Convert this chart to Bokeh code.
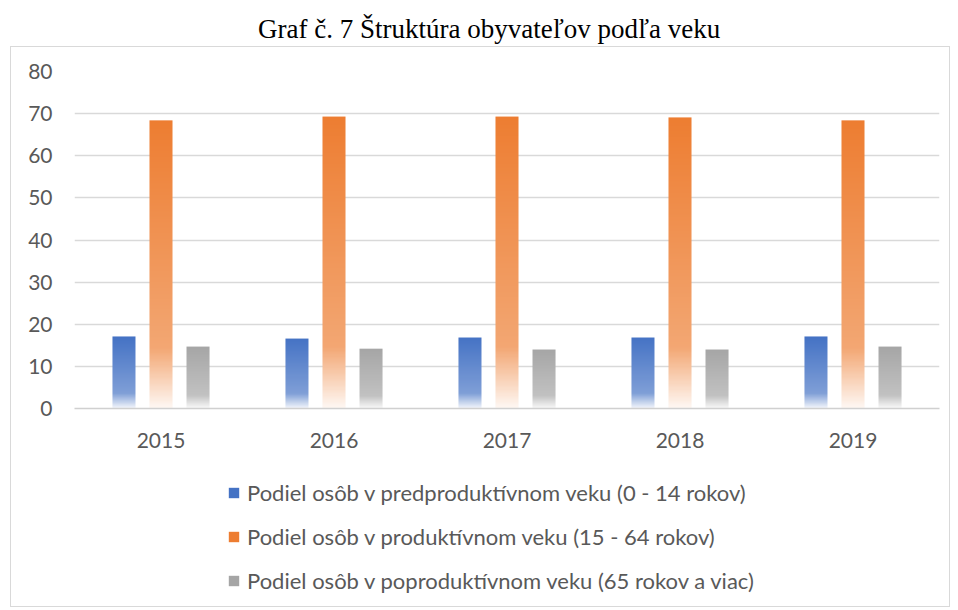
import numpy as np
from bokeh.plotting import figure
from bokeh.layouts import column
from bokeh.models import (ColumnDataSource, FactorRange, Range1d, FixedTicker,
                          Legend, LegendItem)
from bokeh.transform import dodge
from bokeh.embed import file_html
from bokeh.resources import INLINE

# ---- data ----
years = ["2015", "2016", "2017", "2018", "2019"]
pre_productive = [17.1, 16.6, 16.85, 16.85, 17.1]
productive = [68.4, 69.3, 69.3, 69.1, 68.4]
post_productive = [14.7, 14.2, 14.0, 14.0, 14.7]
series_labels = [
    "Podiel osôb v predproduktívnom veku (0 - 14 rokov)",
    "Podiel osôb v produktívnom veku (15 - 64 rokov)",
    "Podiel osôb v poproduktívnom veku (65 rokov a viac)",
]
y_ticks = [0, 10, 20, 30, 40, 50, 60, 70, 80]
title_text = "Graf č. 7  Štruktúra obyvateľov podľa veku"

base_colors = [(68, 114, 196), (237, 125, 49), (165, 165, 165)]
offsets = [-0.214, 0.0, 0.214]
bar_width = 0.133
M = 240
LABEL_FONT = "Lato"
TICK_SIZE = "21px"
LEGEND_SIZE = "22px"
TEXT_COLOR = "#595959"


def hexc(c):
    return "#%02x%02x%02x" % c


def grad_rgb(base, t):
    # t: 0 at top of bar, 1 at bottom
    if t <= 0.79:
        f = 0.32 * t / 0.79
    else:
        f = 0.32 + (0.95 - 0.32) * (t - 0.79) / 0.21
    return tuple(int(round(base[i] + (255 - base[i]) * f)) for i in range(3))


def grad_img(base):
    img = np.empty((M, 1), dtype=np.uint32)
    view = img.view(dtype=np.uint8).reshape((M, 1, 4))
    for r in range(M):  # row 0 = bottom
        t = 1 - (r + 0.5) / M
        c = grad_rgb(base, t)
        view[r, 0, 0] = c[0]
        view[r, 0, 1] = c[1]
        view[r, 0, 2] = c[2]
        view[r, 0, 3] = 255
    return img


def blank(fig):
    fig.outline_line_color = None
    fig.grid.visible = False
    fig.background_fill_color = "white"
    fig.border_fill_color = "white"


# ---- title strip (outside the chart border) ----
pt = figure(width=950, height=46, output_backend="svg", toolbar_location=None,
            x_axis_location=None, y_axis_location=None,
            min_border_left=34, min_border_right=0, min_border_top=43, min_border_bottom=0,
            x_range=Range1d(0, 1), y_range=Range1d(0, 1))
blank(pt)
pt.title.text = title_text
pt.title.text_font = "Liberation Serif"
pt.title.text_font_size = "27px"
pt.title.text_font_style = "normal"
pt.title.text_color = "#000000"
pt.title.align = "center"
pt.title.standoff = 0

# ---- main chart ----
p = figure(width=938, height=423, x_range=FactorRange(*years), y_range=Range1d(0, 80),
           output_backend="svg", toolbar_location=None,
           min_border_left=63, min_border_right=10, min_border_top=24, min_border_bottom=62)
blank(p)
p.ygrid.visible = True

all_series = [pre_productive, productive, post_productive]
for vals, base, off in zip(all_series, base_colors, offsets):
    img = grad_img(base)
    src = ColumnDataSource(dict(year=years, image=[img] * len(years), dh=vals))
    p.image_rgba(image="image", x=dodge("year", off, range=p.x_range), y=0,
                 dw=bar_width, dh="dh", anchor="bottom_center", source=src)

p.yaxis.ticker = FixedTicker(ticks=y_ticks)
p.yaxis.axis_line_color = None
p.yaxis.major_tick_line_color = None
p.yaxis.minor_tick_line_color = None
p.yaxis.major_tick_out = 0
p.yaxis.major_label_standoff = 22
p.yaxis.major_label_text_font = LABEL_FONT
p.yaxis.major_label_text_font_size = TICK_SIZE
p.yaxis.major_label_text_color = TEXT_COLOR

p.xaxis.axis_line_color = "#d0d0d0"
p.xaxis.axis_line_width = 1.5
p.xaxis.major_tick_line_color = None
p.xaxis.minor_tick_line_color = None
p.xaxis.major_tick_out = 0
p.xaxis.major_label_standoff = 24
p.xaxis.major_label_text_font = LABEL_FONT
p.xaxis.major_label_text_font_size = TICK_SIZE
p.xaxis.major_label_text_color = TEXT_COLOR

p.ygrid.grid_line_color = "#d9d9d9"
p.ygrid.grid_line_width = 1.3

# ---- legend strip (inside the chart border) ----
pl = figure(width=938, height=136, output_backend="svg", toolbar_location=None,
            x_axis_location=None, y_axis_location=None, min_border=0,
            x_range=Range1d(0, 1), y_range=Range1d(0, 1))
blank(pl)
items = []
for lab, base in zip(series_labels, base_colors):
    # zero-size proxy glyph, only used to draw the legend swatch
    r = pl.vbar(x=[0], bottom=[0], top=[0], width=0, fill_color=hexc(base), line_color=None)
    items.append(LegendItem(label=lab, renderers=[r]))

legend = Legend(items=items, location=(153, 12), orientation="vertical",
                glyph_width=13, glyph_height=13, label_standoff=7,
                label_height=27, spacing=17, padding=0, margin=0,
                border_line_color=None, background_fill_alpha=0,
                label_text_font=LABEL_FONT, label_text_font_size=LEGEND_SIZE,
                label_text_color=TEXT_COLOR)
pl.add_layout(legend, "center")

chart_box = column(p, pl, spacing=0, margin=(0, 0, 0, 10),
                   styles={"border": "1px solid #d9d9d9"})
layout = column(pt, chart_box, spacing=0)
open("out.html", "w").write(file_html(layout, INLINE))
